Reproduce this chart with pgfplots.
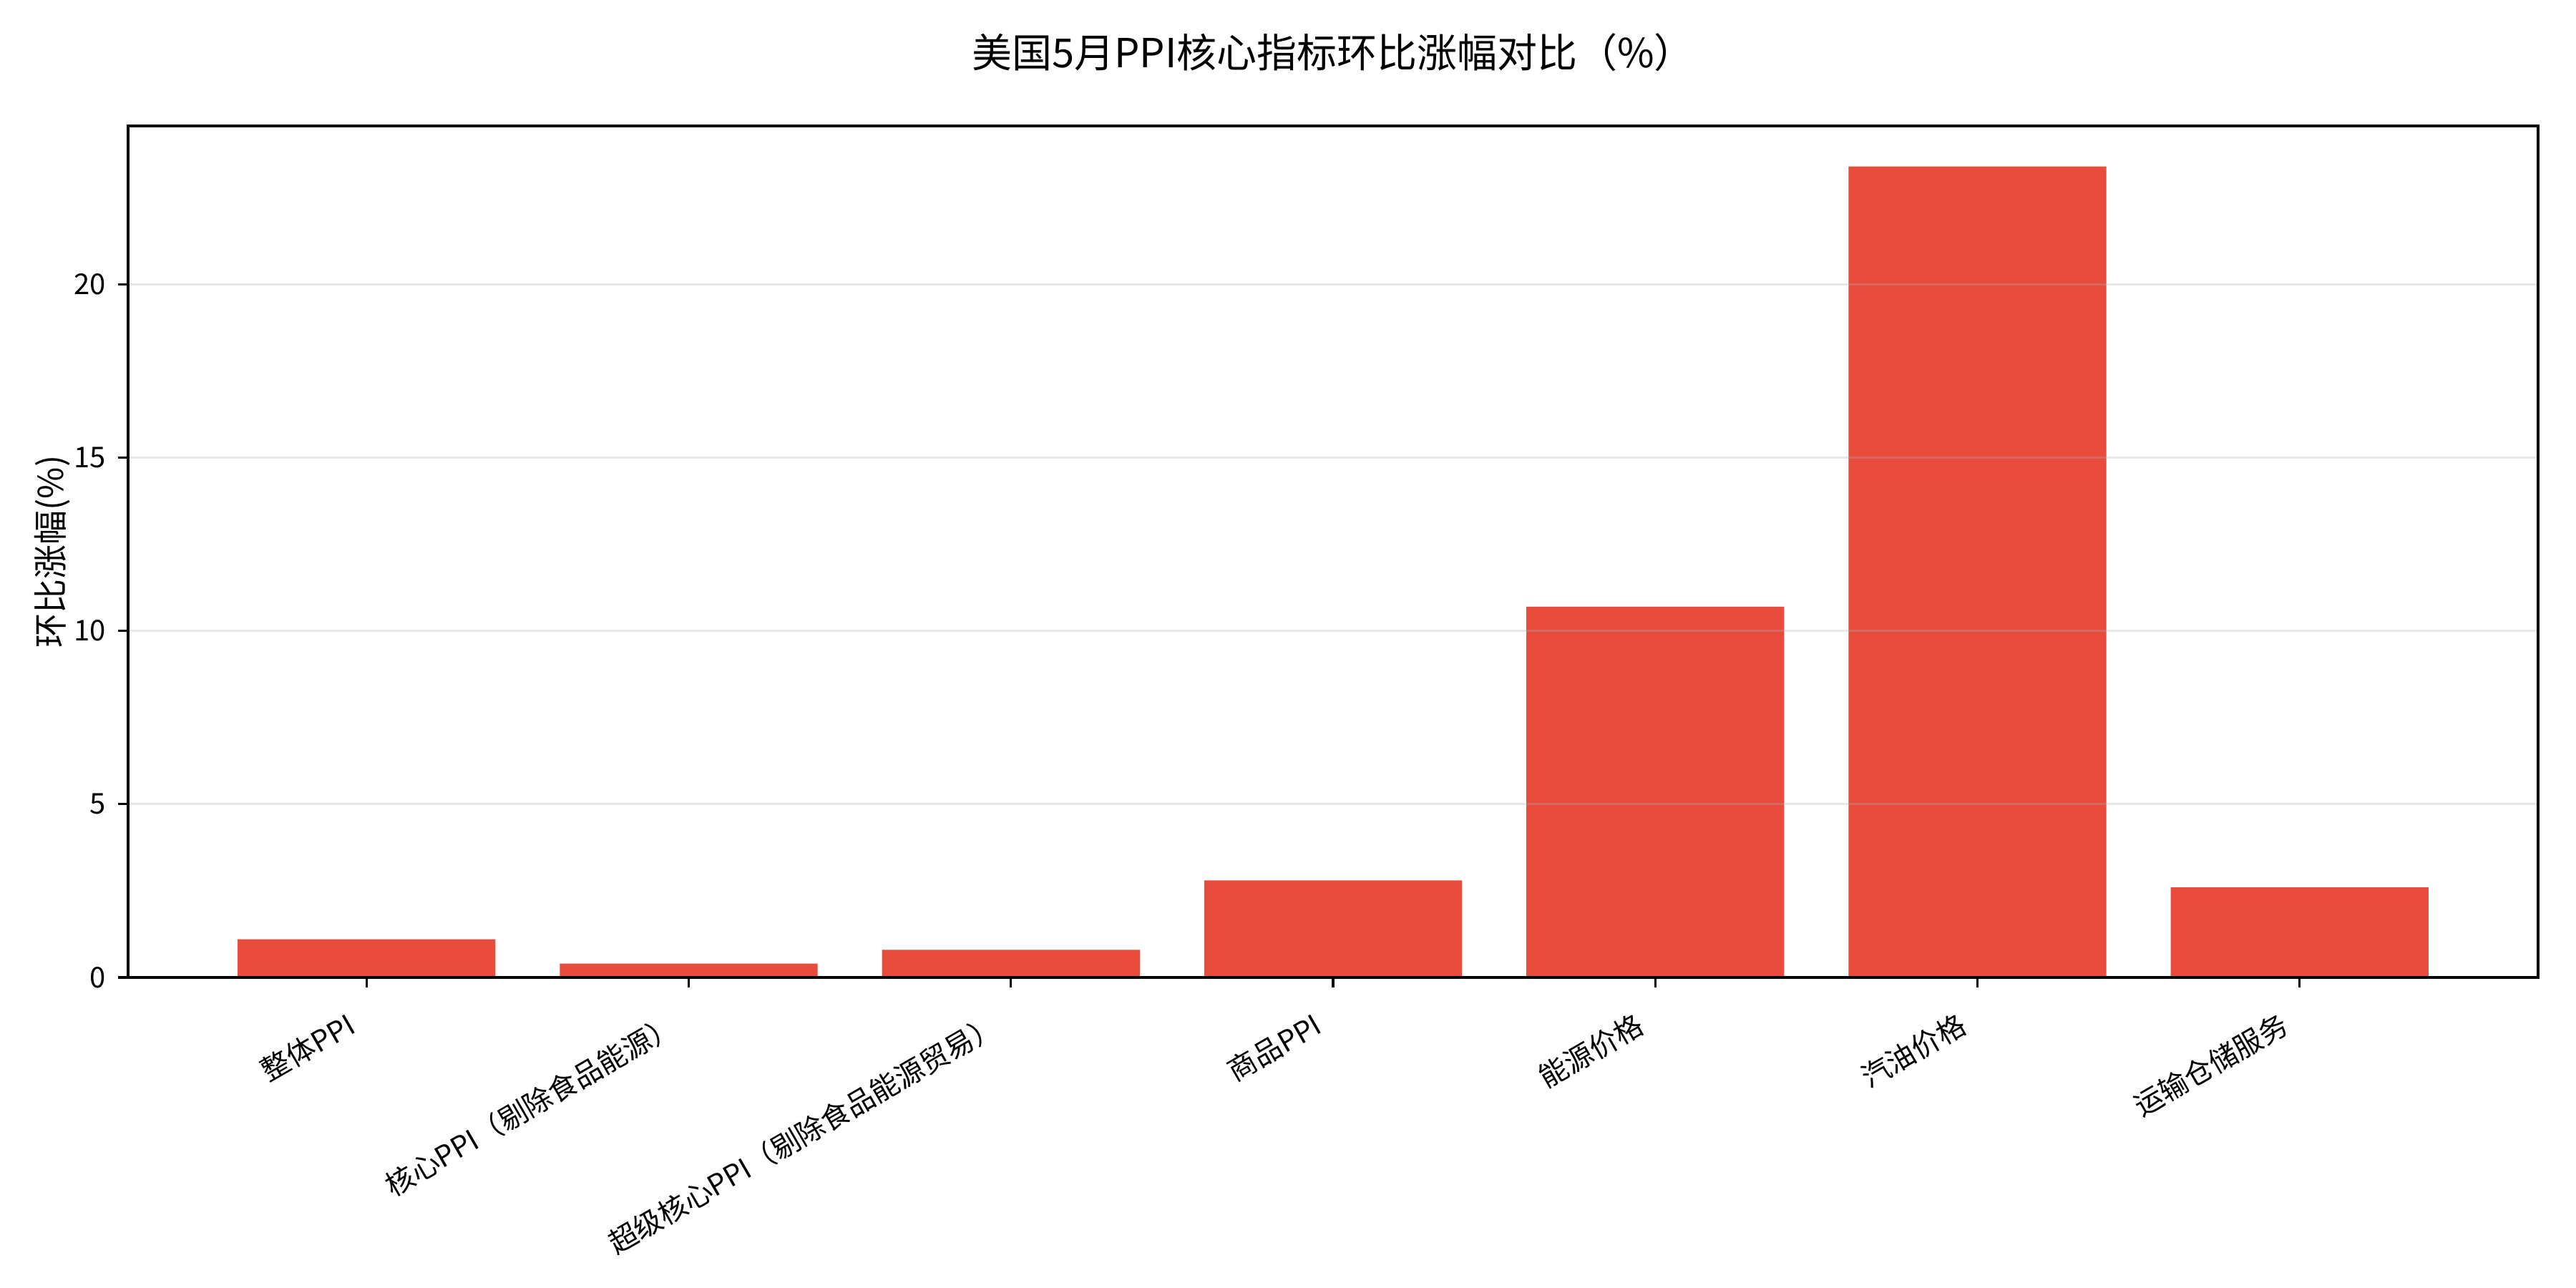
\documentclass[border=0pt]{standalone}
\usepackage{pgfplots}
\pgfplotsset{compat=1.18}
\usepackage{fontspec}
\setmainfont{Noto Sans CJK SC}
\setsansfont{Noto Sans CJK SC}

\definecolor{barred}{HTML}{E74C3C}
\definecolor{gridgray}{HTML}{B0B0B0}

\begin{document}
\begin{tikzpicture}
\useasboundingbox (-44.75pt,-108.5pt) rectangle (855.25pt,341.5pt);
\begin{axis}[
  at={(0,0)}, anchor=south west,
  scale only axis,
  width=842pt, height=297.5pt,
  xmin=-0.74, xmax=6.74,
  ymin=0, ymax=24.57,
  ybar, bar width=0.8,
  xtick={0,1,2,3,4,5,6},
  xticklabels={整体PPI,核心PPI（剔除食品能源）,超级核心PPI（剔除食品能源贸易）,商品PPI,能源价格,汽油价格,运输仓储服务},
  ytick={0,5,10,15,20},
  tick align=outside, tick pos=left,
  major tick length=3.5pt,
  every tick/.style={black, line width=0.8pt},
  axis line style={line width=0.8pt},
  ymajorgrids=true,
  major grid style={gridgray, opacity=0.3, line width=0.8pt},
  axis on top,
  /pgf/number format/assume math mode=true,
  ticklabel style={font=\fontsize{10pt}{12pt}\selectfont},
  xticklabel style={xshift=-7pt, yshift=-6.5pt, rotate=30, anchor=north east, inner sep=1pt},
  yticklabel style={anchor=east, inner sep=1pt, xshift=-3pt},
  ylabel={环比涨幅(\%)},
  ylabel style={at={(axis description cs:0,0.5)}, anchor=center, yshift=26.4pt, font=\fontsize{12pt}{14pt}\selectfont},
  title={美国5月PPI核心指标环比涨幅对比（\%）},
  title style={at={(axis description cs:0.5,1)}, anchor=base, yshift=14.25pt, font=\fontsize{14pt}{16pt}\selectfont},
]
\addplot[draw=none, fill=barred] coordinates {
  (0,1.1) (1,0.4) (2,0.8) (3,2.8) (4,10.7) (5,23.4) (6,2.6)
};
\end{axis}
\end{tikzpicture}
\end{document}
